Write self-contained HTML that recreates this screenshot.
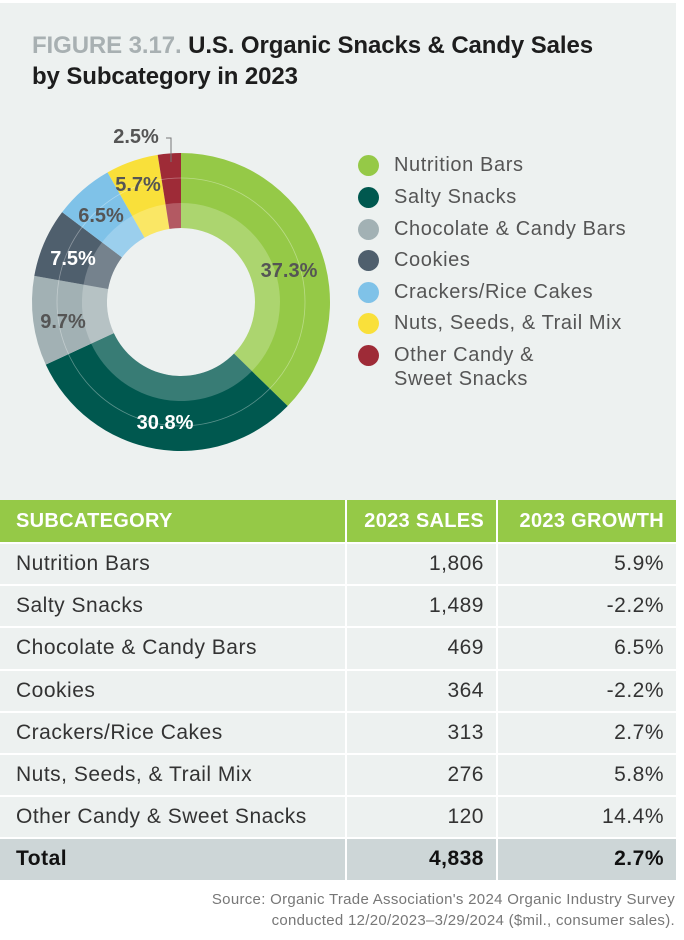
<!DOCTYPE html>
<html><head><meta charset="utf-8"><style>
*{margin:0;padding:0;box-sizing:border-box}
body{width:684px;height:940px;background:#fff;font-family:"Liberation Sans",sans-serif;position:relative;overflow:hidden}
#panel{position:absolute;left:0;top:3px;width:676px;height:877px;background:#edf1f0}
.t{position:absolute;font-weight:bold;font-size:24px;color:#1d1d1d;left:32px;letter-spacing:-0.1px}
.leg{position:absolute;left:358px;font-size:20px;color:#555;line-height:24px;letter-spacing:0.6px}
.leg i{position:absolute;left:0;top:2px;width:21px;height:21px;border-radius:50%}
.leg span{position:absolute;left:36px;white-space:nowrap}
table{position:absolute;left:0;top:500px;width:676px;border-collapse:collapse;font-size:21px;color:#333;letter-spacing:0.5px}
td,th{height:42.2px;padding:0 12px 0 16px;border:2px solid #fff;border-top:0;border-left:0;white-space:nowrap}
td:last-child,th:last-child{border-right:0}
th{background:#95c947;color:#fff;text-align:left;font-size:20px;height:43px;letter-spacing:0.3px}
.r{text-align:right}
tr.tot td{background:#cdd6d7;font-weight:bold;color:#111}
.src{position:absolute;right:9px;top:889px;text-align:right;font-size:15px;color:#777;line-height:21px;letter-spacing:0.3px}
</style></head><body>
<div id="panel"></div>
<div class="t" style="top:32px"><span style="color:#a8b0b2">FIGURE 3.17.</span> U.S. Organic Snacks &amp; Candy Sales</div>
<div class="t" style="top:63px">by Subcategory in 2023</div>
<svg id="d" width="684" height="470" style="position:absolute;left:0;top:0"></svg>
<div class="leg" style="top:153px"><i style="background:#95c947"></i><span>Nutrition Bars</span></div>
<div class="leg" style="top:185px"><i style="background:#00584f"></i><span>Salty Snacks</span></div>
<div class="leg" style="top:217px"><i style="background:#a2b1b4"></i><span>Chocolate &amp; Candy Bars</span></div>
<div class="leg" style="top:248px"><i style="background:#4f5f6d"></i><span>Cookies</span></div>
<div class="leg" style="top:280px"><i style="background:#7fc2e8"></i><span>Crackers/Rice Cakes</span></div>
<div class="leg" style="top:311px"><i style="background:#f9e03a"></i><span>Nuts, Seeds, &amp; Trail Mix</span></div>
<div class="leg" style="top:343px"><i style="background:#9e2b37"></i><span>Other Candy &amp;<br>Sweet Snacks</span></div>
<table>
<tr><th>SUBCATEGORY</th><th class="r" style="width:151px">2023 SALES</th><th class="r" style="width:179px">2023 GROWTH</th></tr>
<tr><td>Nutrition Bars</td><td class="r">1,806</td><td class="r">5.9%</td></tr>
<tr><td>Salty Snacks</td><td class="r">1,489</td><td class="r">-2.2%</td></tr>
<tr><td>Chocolate &amp; Candy Bars</td><td class="r">469</td><td class="r">6.5%</td></tr>
<tr><td>Cookies</td><td class="r">364</td><td class="r">-2.2%</td></tr>
<tr><td>Crackers/Rice Cakes</td><td class="r">313</td><td class="r">2.7%</td></tr>
<tr><td>Nuts, Seeds, &amp; Trail Mix</td><td class="r">276</td><td class="r">5.8%</td></tr>
<tr><td>Other Candy &amp; Sweet Snacks</td><td class="r">120</td><td class="r">14.4%</td></tr>
<tr class="tot"><td>Total</td><td class="r">4,838</td><td class="r">2.7%</td></tr>
</table>
<div class="src">Source: Organic Trade Association's 2024 Organic Industry Survey<br>conducted 12/20/2023–3/29/2024 ($mil., consumer sales).</div>
<script>
var cx=181,cy=302,R=149,r1=99,r0=74;
var d=[[37.3,"#95c947"],[30.8,"#00584f"],[9.7,"#a2b1b4"],[7.5,"#4f5f6d"],[6.5,"#7fc2e8"],[5.7,"#f9e03a"],[2.5,"#9e2b37"]];
function p(a,rr){a=a*Math.PI/180;return [cx+rr*Math.sin(a),cy-rr*Math.cos(a)]}
function arc(a0,a1,ra,rb){var l=(a1-a0)>180?1:0,A=p(a0,rb),B=p(a1,rb),C=p(a1,ra),D=p(a0,ra);
return "M"+A+"A"+rb+","+rb+" 0 "+l+" 1 "+B+"L"+C+"A"+ra+","+ra+" 0 "+l+" 0 "+D+"Z"}
var s="",a=0;
d.forEach(function(x){var b=a+x[0]*3.6;
s+='<path d="'+arc(a,b,r0,R)+'" fill="'+x[1]+'"/>';
s+='<path d="'+arc(a,b,r0,r1)+'" fill="#fff" fill-opacity="0.22"/>';
a=b;});
s+='<circle cx="'+cx+'" cy="'+cy+'" r="124" fill="none" stroke="#fff" stroke-opacity="0.35" stroke-width="0.8"/>';
var L=[["37.3%",289,277,"#555"],["30.8%",165,429,"#fff"],["9.7%",63,328,"#555"],["7.5%",73,265,"#fff"],["6.5%",101,222,"#555"],["5.7%",138,191,"#555"],["2.5%",136,143,"#555"]];
L.forEach(function(t){s+='<text x="'+t[1]+'" y="'+t[2]+'" text-anchor="middle" font-family="Liberation Sans" font-weight="bold" font-size="20" fill="'+t[3]+'">'+t[0]+'</text>'});
s+='<path d="M166,138H171V162" fill="none" stroke="#777" stroke-width="1"/>';
document.getElementById("d").innerHTML=s;
</script>
</body></html>
